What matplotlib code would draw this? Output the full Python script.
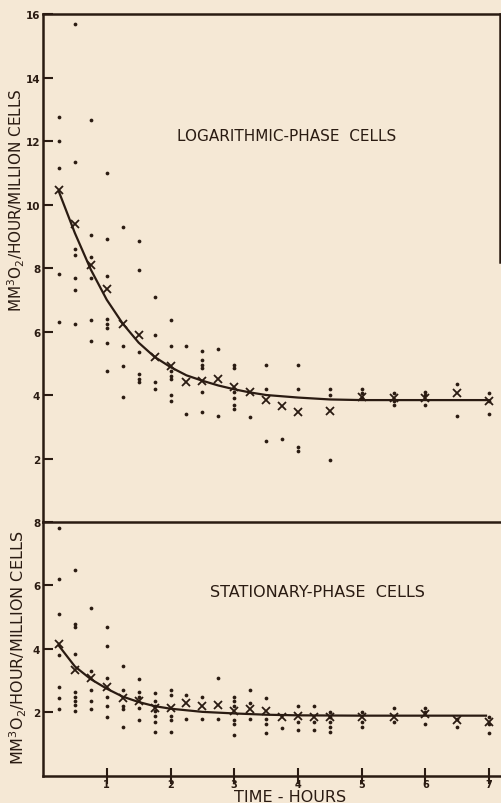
import matplotlib.pyplot as plt
import numpy as np

BG = "#f5e8d5"
INK = "#2a1b12"

# tempos (horas) das medidas
times = [0.25, 0.5, 0.75, 1.0, 1.25, 1.5, 1.75, 2.0, 2.25, 2.5, 2.75, 3.0,
         3.25, 3.5, 3.75, 4.0, 4.5, 5.0, 5.5, 6.0, 6.5, 7.0]

# celulas em fase logaritmica: pontos individuais
log_dots = [
    [12.75, 12.0, 11.15, 7.8, 6.3],
    [15.7, 11.35, 8.6, 8.4, 7.7, 7.3, 6.25],
    [12.65, 9.05, 8.35, 7.7, 6.35, 5.7],
    [11.0, 8.9, 7.75, 6.4, 6.25, 6.1, 5.65, 4.75],
    [9.3, 5.55, 4.9, 3.95],
    [8.85, 7.95, 5.35, 4.65, 4.5, 4.4],
    [7.1, 5.9, 4.4, 4.2],
    [6.35, 5.55, 4.75, 4.6, 4.5, 4.0, 3.8],
    [5.55, 3.4],
    [5.4, 5.1, 4.95, 4.85, 4.1, 3.45],
    [5.45, 3.35],
    [4.95, 4.85, 4.1, 3.9, 3.7, 3.55],
    [3.3],
    [4.95, 4.2, 2.55],
    [2.6],
    [4.95, 4.2, 2.35, 2.25],
    [4.2, 4.0, 1.95],
    [4.2, 4.05, 3.9],
    [4.05, 3.8, 3.7],
    [4.1, 4.0, 3.7],
    [4.35, 3.35],
    [4.05, 3.8, 3.4],
]
# medias (x)
log_means = [10.45, 9.4, 8.1, 7.35, 6.25, 5.9, 5.2, 4.9, 4.4, 4.45, 4.5, 4.25,
             4.1, 3.85, 3.65, 3.45, 3.5, 3.95, 3.9, 3.9, 4.05, 3.8]
# curva desenhada a mao
log_curve_t = [0.25, 0.5, 0.75, 1.0, 1.25, 1.5, 1.75, 2.0, 2.25, 2.5, 2.75,
               3.0, 3.25, 3.5, 4.0, 4.5, 5.0, 6.0, 7.0]
log_curve_v = [10.4, 9.1, 7.95, 7.0, 6.25, 5.65, 5.2, 4.88, 4.62, 4.45, 4.3,
               4.18, 4.08, 4.0, 3.92, 3.86, 3.84, 3.84, 3.84]

# celulas em fase estacionaria
stat_times = [0.25, 0.5, 0.75, 1.0, 1.25, 1.5, 1.75, 2.0, 2.25, 2.5, 2.75,
              3.0, 3.25, 3.5, 3.75, 4.0, 4.25, 4.5, 5.0, 5.5, 6.0, 6.5, 7.0]
stat_dots = [
    [7.8, 6.2, 5.1, 3.8, 2.8, 2.45, 2.1],
    [6.5, 4.8, 4.7, 3.85, 2.65, 2.5, 2.35, 2.25, 2.05],
    [5.3, 3.3, 2.7, 2.35, 2.1],
    [4.7, 4.1, 3.1, 2.5, 2.2, 1.85],
    [3.45, 2.7, 2.2, 2.1, 1.55],
    [3.05, 2.65, 2.5, 2.15, 1.75],
    [2.6, 2.35, 2.2, 2.05, 1.9, 1.7, 1.4],
    [2.7, 2.55, 1.9, 1.75, 1.4],
    [2.55, 1.8],
    [2.5, 1.8],
    [3.1, 1.8],
    [2.5, 2.35, 2.2, 1.75, 1.65, 1.3],
    [2.7, 2.3, 1.8],
    [2.45, 1.8, 1.65, 1.35],
    [1.5],
    [2.2, 1.7, 1.45],
    [2.2, 1.7, 1.45],
    [2.0, 1.85, 1.7, 1.55, 1.4],
    [2.0, 1.7, 1.55],
    [2.15, 1.7],
    [2.15, 2.0, 1.65],
    [1.8, 1.55],
    [1.85, 1.65, 1.35],
]
stat_means = [4.15, 3.35, 3.1, 2.8, 2.45, 2.35, 2.15, 2.15, 2.3, 2.2, 2.25,
              2.05, 2.1, 2.05, 1.85, 1.9, 1.85, 1.85, 1.85, 1.85, 1.95, 1.75, 1.7]
stat_curve_t = [0.25, 0.5, 0.75, 1.0, 1.25, 1.5, 1.75, 2.0, 2.5, 3.0, 3.5,
                4.0, 5.0, 6.0, 6.95]
stat_curve_v = [4.1, 3.45, 3.05, 2.75, 2.5, 2.33, 2.2, 2.12, 2.02, 1.97,
                1.93, 1.91, 1.9, 1.9, 1.9]

ylabel = r"MM$^3$O$_2$/HOUR/MILLION CELLS"

fig = plt.figure(figsize=(5.02, 8.04), dpi=100, facecolor=BG)
ax1 = fig.add_axes([0.0857, 0.3495, 0.9104, 0.6318])
ax2 = fig.add_axes([0.0857, 0.0336, 0.9104, 0.3159])

for ax in (ax1, ax2):
    ax.set_facecolor(BG)
    ax.set_xlim(0, 7.17)
    for s in ax.spines.values():
        s.set_color(INK)
        s.set_linewidth(1.8)
    ax.tick_params(colors=INK, labelsize=7.5, width=1.5, length=7,
                   direction="in", pad=2)

def draw(ax, tt, dots, means, ct, cv):
    for t, vals in zip(tt, dots):
        ax.plot([t] * len(vals), vals, "o", color=INK, ms=2.7, mew=0)
    ax.plot(tt, means, "x", color=INK, ms=5.5, mew=1.3)
    ax.plot(ct, cv, "-", color=INK, lw=1.6)

draw(ax1, times, log_dots, log_means, log_curve_t, log_curve_v)
draw(ax2, stat_times, stat_dots, stat_means, stat_curve_t, stat_curve_v)

ax1.set_ylim(0, 16)
ax1.set_yticks([2, 4, 6, 8, 10, 12, 14, 16])
ax1.set_xticks([])
ax1.spines["bottom"].set_visible(False)
ax1.spines["right"].set_bounds(8.2, 16)

ax2.set_ylim(0, 8)
ax2.set_yticks([2, 4, 6, 8])
ax2.set_xticks(range(1, 8))
ax2.tick_params(axis="x", direction="inout", length=11, pad=-3.5, labelsize=7)
ax2.spines["right"].set_visible(False)
for ax in (ax1, ax2):
    for lab in ax.get_yticklabels() + ax.get_xticklabels():
        lab.set_fontweight("bold")

ax1.text(0.534, 0.76, "LOGARITHMIC-PHASE  CELLS", transform=ax1.transAxes,
         ha="center", va="center", fontsize=11, color=INK)
ax2.text(0.60, 0.728, "STATIONARY-PHASE  CELLS", transform=ax2.transAxes,
         ha="center", va="center", fontsize=11.5, color=INK)

fig.text(0.032, 0.751, ylabel, rotation=90, ha="center", va="center",
         fontsize=11, color=INK)
fig.text(0.036, 0.194, ylabel, rotation=90, ha="center", va="center",
         fontsize=11.5, color=INK)
fig.text(0.578, 0.0075, "TIME - HOURS", ha="center", va="center",
         fontsize=11.5, color=INK)

fig.savefig("out.png", dpi=100, facecolor=BG)
